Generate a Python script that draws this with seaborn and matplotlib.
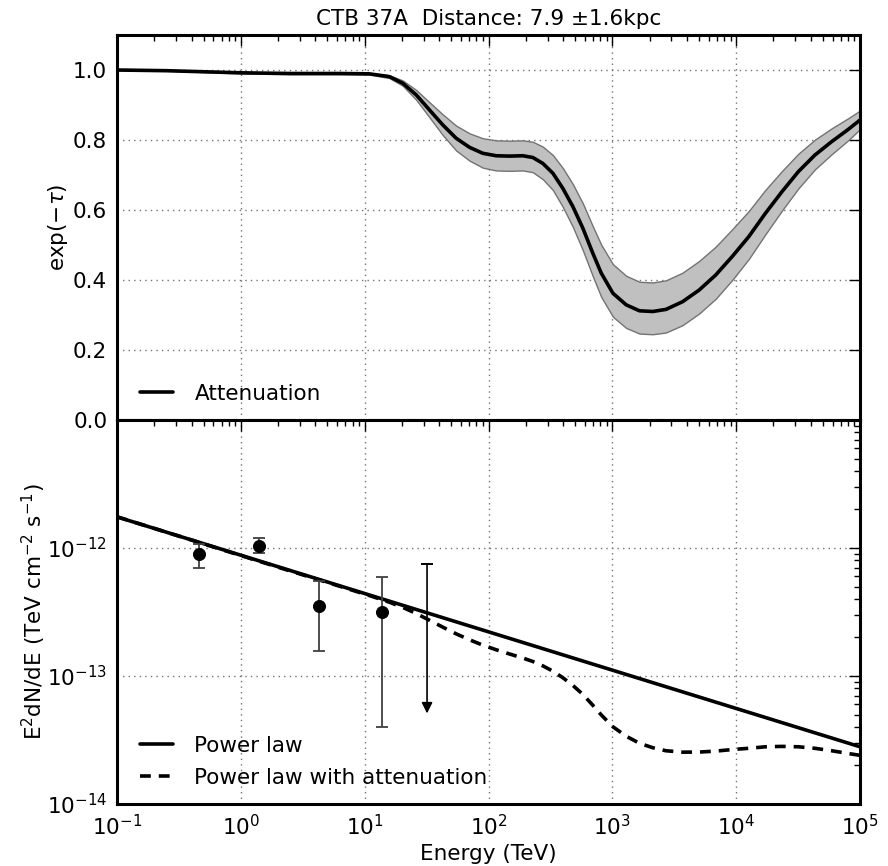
import numpy as np
import pandas as pd
import matplotlib
matplotlib.use("Agg")
import matplotlib.pyplot as plt
import seaborn as sns
from matplotlib.ticker import LogLocator, NullFormatter, MultipleLocator, NullLocator

# ---------------- data ----------------
log_energy = [-1.0, -0.6, -0.3, 0.0, 0.4, 0.8, 1.039, 1.2, 1.308, 1.416, 1.523, 1.631,
              1.739, 1.847, 1.954, 2.062, 2.17, 2.277, 2.358, 2.439, 2.52, 2.6, 2.681,
              2.762, 2.843, 2.91, 3.005, 3.112, 3.219, 3.326, 3.433, 3.567, 3.7, 3.834,
              3.968, 4.102, 4.235, 4.369, 4.503, 4.636, 4.77, 4.904, 5.0]
atten_central = [1.0, 0.998, 0.995, 0.992, 0.990, 0.990, 0.989, 0.981, 0.962, 0.929, 0.886,
                 0.843, 0.805, 0.779, 0.762, 0.755, 0.754, 0.755, 0.750, 0.733, 0.705,
                 0.662, 0.610, 0.548, 0.476, 0.420, 0.362, 0.329, 0.312, 0.310, 0.316,
                 0.338, 0.371, 0.414, 0.467, 0.524, 0.590, 0.652, 0.710, 0.757, 0.795,
                 0.830, 0.857]
atten_upper = [1.0, 0.998, 0.996, 0.994, 0.992, 0.992, 0.991, 0.985, 0.970, 0.943, 0.908,
               0.873, 0.841, 0.819, 0.805, 0.799, 0.798, 0.799, 0.795, 0.781, 0.757,
               0.720, 0.674, 0.619, 0.553, 0.501, 0.445, 0.412, 0.395, 0.393, 0.399,
               0.421, 0.454, 0.495, 0.545, 0.597, 0.657, 0.711, 0.761, 0.801, 0.833,
               0.862, 0.884]
atten_lower = [1.0, 0.998, 0.994, 0.990, 0.988, 0.988, 0.987, 0.977, 0.955, 0.915, 0.865,
               0.814, 0.770, 0.741, 0.721, 0.713, 0.712, 0.713, 0.708, 0.688, 0.657,
               0.609, 0.552, 0.485, 0.410, 0.352, 0.295, 0.263, 0.247, 0.245, 0.250,
               0.271, 0.304, 0.346, 0.400, 0.460, 0.530, 0.598, 0.662, 0.716, 0.759,
               0.799, 0.831]
att_flux = [1.754e-12, 1.328e-12, 1.077e-12, 8.73e-13, 6.61e-13, 5.02e-13, 4.25e-13,
            3.77e-13, 3.435e-13, 3.08e-13, 2.727e-13, 2.408e-13, 2.135e-13, 1.918e-13,
            1.742e-13, 1.603e-13, 1.486e-13, 1.382e-13, 1.298e-13, 1.20e-13, 1.091e-13,
            9.70e-14, 8.45e-14, 7.18e-14, 5.90e-14, 4.97e-14, 4.01e-14, 3.385e-14,
            2.982e-14, 2.753e-14, 2.606e-14, 2.541e-14, 2.545e-14, 2.589e-14, 2.663e-14,
            2.724e-14, 2.798e-14, 2.819e-14, 2.799e-14, 2.723e-14, 2.608e-14, 2.482e-14,
            2.399e-14]

pl_energy = [0.1, 1e5]
pl_flux = [1.75e-12, 2.8e-14]

pt_energy = [0.46, 1.39, 4.28, 13.7]
pt_flux = [8.9e-13, 1.04e-12, 3.55e-13, 3.15e-13]
pt_err_hi = [1.07e-12, 1.19e-12, 5.5e-13, 5.9e-13]
pt_err_lo = [7.0e-13, 9.1e-13, 1.58e-13, 4.0e-14]

ul_energy = [31.9]
ul_flux = [7.5e-13]
ul_arrow_end = [5.1e-14]

title = "CTB 37A  Distance: 7.9 \u00b11.6kpc"

# ---------------- style ----------------
sns.set_theme(style="white")
plt.rcParams["font.family"] = ["DejaVu Sans"]
plt.rcParams["mathtext.fontset"] = "dejavusans"
plt.rcParams["text.color"] = "black"
plt.rcParams["axes.labelcolor"] = "black"
plt.rcParams["lines.solid_joinstyle"] = "round"
plt.rcParams["lines.dash_joinstyle"] = "round"
FS = 15.5

energy = 10.0 ** np.array(log_energy)
df_att = pd.DataFrame({"E": energy, "central": atten_central,
                       "upper": atten_upper, "lower": atten_lower, "attflux": att_flux})
df_pl = pd.DataFrame({"E": pl_energy, "flux": pl_flux})
df_pt = pd.DataFrame({"E": pt_energy, "flux": pt_flux, "hi": pt_err_hi, "lo": pt_err_lo})

fig = plt.figure(figsize=(8.88, 8.66), dpi=100)
left, right = 117 / 888, 860 / 888
y_top, y_mid, y_bot = 1 - 35 / 866, 1 - 420 / 866, 1 - 804 / 866
ax1 = fig.add_axes([left, y_mid, right - left, y_top - y_mid])
ax2 = fig.add_axes([left, y_bot, right - left, y_mid - y_bot], sharex=ax1)

leg_kw = dict(loc="lower left", frameon=False, fontsize=FS, handlelength=1.55,
              handletextpad=1.0, borderaxespad=0.65, bbox_to_anchor=(0.0, -0.016))

# ---- top panel ----
ax1.fill_between(df_att["E"], df_att["lower"], df_att["upper"],
                 facecolor="#c0c0c0", edgecolor="0.45", linewidth=1.0, zorder=2)
sns.lineplot(data=df_att, x="E", y="central", ax=ax1, color="black", linewidth=2.6,
             label="Attenuation", zorder=3)
ax1.set_xscale("log")
ax1.set_xlim(0.1, 1e5)
ax1.set_ylim(0, 1.1)
ax1.yaxis.set_major_locator(MultipleLocator(0.2))
ax1.yaxis.set_minor_locator(NullLocator())
ax1.set_ylabel(r"exp($-\tau$)", fontsize=FS, labelpad=2)
ax1.set_xlabel("")
ax1.set_title(title, fontsize=FS, pad=7, color="black")
ax1.legend(**leg_kw)
plt.setp(ax1.get_xticklabels(), visible=False)

# ---- bottom panel ----
sns.lineplot(data=df_pl, x="E", y="flux", ax=ax2, color="black", linewidth=2.6,
             label="Power law", zorder=3)
sns.lineplot(data=df_att, x="E", y="attflux", ax=ax2, color="black", linewidth=2.6,
             linestyle=(0, (3, 2.2)), label="Power law with attenuation", zorder=3)
yerr = [np.array(pt_flux) - np.array(pt_err_lo), np.array(pt_err_hi) - np.array(pt_flux)]
ax2.errorbar(pt_energy, pt_flux, yerr=yerr, fmt="none", ecolor="0.25", elinewidth=1.3,
             capsize=4, capthick=1.3, zorder=4)
sns.scatterplot(data=df_pt, x="E", y="flux", ax=ax2, color="black", s=75,
                edgecolor="black", zorder=5, legend=False)
for e, top, bot in zip(ul_energy, ul_flux, ul_arrow_end):
    ax2.annotate("", xy=(e, bot), xytext=(e, top),
                 arrowprops=dict(arrowstyle="-|>", color="black", lw=1.2,
                                 mutation_scale=16, shrinkA=0, shrinkB=0), zorder=4)
    ax2.errorbar([e], [top], yerr=[[0], [0]], fmt="none", ecolor="black",
                 capsize=4, capthick=1.2, zorder=4)
ax2.set_xscale("log")
ax2.set_yscale("log")
ax2.set_xlim(0.1, 1e5)
ax2.set_ylim(1e-14, 1e-11)
ax2.set_yticks([1e-14, 1e-13, 1e-12])
ax2.yaxis.set_minor_locator(LogLocator(base=10, subs=np.arange(2, 10)))
ax2.yaxis.set_minor_formatter(NullFormatter())
ax2.set_xticks([10.0 ** k for k in range(-1, 6)])
ax2.xaxis.set_minor_locator(LogLocator(base=10, subs=np.arange(2, 10)))
ax2.xaxis.set_minor_formatter(NullFormatter())
ax2.set_xlabel("Energy (TeV)", fontsize=FS, labelpad=4)
ax2.set_ylabel(r"E$^2$dN/dE (TeV cm$^{-2}$ s$^{-1}$)", fontsize=FS, labelpad=-1)
ax2.legend(labelspacing=0.55, **leg_kw)

for ax in (ax1, ax2):
    for s in ax.spines.values():
        s.set_linewidth(2.2)
        s.set_color("black")
    ax.grid(True, which="major", linestyle=(0, (1, 3)), color="0.45", linewidth=1.0)
    ax.tick_params(which="both", direction="in", top=True, right=True,
                   labelsize=FS, colors="black")
    ax.tick_params(which="major", length=8, width=1.0, pad=7)
    ax.tick_params(which="minor", length=4, width=1.0)
ax1.xaxis.set_minor_locator(LogLocator(base=10, subs=np.arange(2, 10)))
ax1.xaxis.set_minor_formatter(NullFormatter())

fig.savefig("out.png", dpi=100, facecolor="white")
